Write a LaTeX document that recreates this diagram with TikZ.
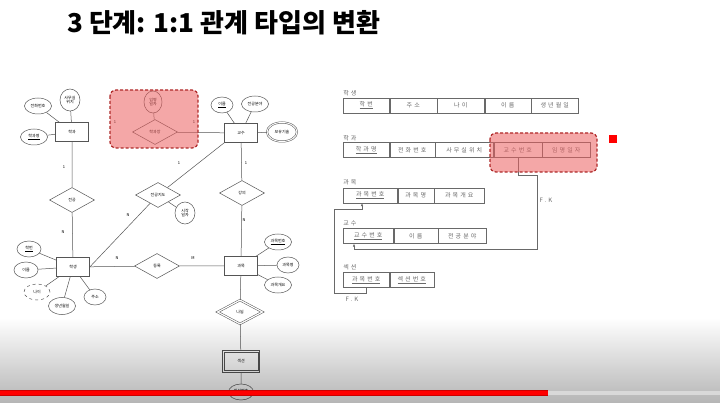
\documentclass[tikz,border=0pt]{standalone}
\usepackage{fontspec}
\newfontfamily\cjk{Noto Sans CJK KR}
\newfontfamily\cjkwide[LetterSpace=35]{Noto Sans CJK KR}
\usetikzlibrary{shapes.geometric}
\usetikzlibrary{positioning}
\usetikzlibrary{arrows.meta}
\usetikzlibrary{fadings}
\definecolor{linegray}{RGB}{85,85,85}
\definecolor{cellgray}{RGB}{105,105,105}
\definecolor{hlfill}{RGB}{235,95,95}
\definecolor{hldraw}{RGB}{175,40,40}
\tikzstyle{every path}=[line width=0.5pt]
\newcommand{\erfont}{\cjk\fontsize{4}{4.6}\selectfont}
\newcommand{\tabfont}{\cjkwide\fontsize{6}{7}\selectfont}

\begin{document}
\begin{tikzpicture}[x=1pt,y=-1pt]
		\tikzstyle{ent} = [draw=linegray,fill=white,minimum width=33pt,minimum height=19pt,inner sep=0pt,font=\erfont]
		\tikzstyle{rel} = [draw=linegray,fill=white,diamond,minimum width=45pt,minimum height=25pt,inner sep=0pt,font=\erfont]
		\tikzstyle{attr} = [draw=linegray,fill=white,ellipse,minimum width=27pt,minimum height=16pt,inner sep=0pt,font=\erfont,align=center]
		\tikzstyle{card} = [font=\erfont,inner sep=0pt]
		\tikzstyle{cell} = [draw=cellgray,minimum height=15pt,inner sep=0pt,font=\tabfont,text=cellgray]
		\tikzstyle{tname} = [anchor=west,inner sep=0pt,font=\tabfont,text=cellgray]
		\tikzstyle{hlbox} = [draw=hldraw,fill=hlfill,fill opacity=0.55,dash pattern=on 3pt off 2pt,line width=1.2pt,rounded corners=6pt]
		\tikzstyle{fk} = [cellgray,-{Latex[length=3pt,width=2.5pt]}]
		
		\useasboundingbox (0,0) rectangle (720,403);
		\fill[white] (0,0) rectangle (720,403);
		
		\node[anchor=base west,inner sep=0pt,font=\cjk\bfseries\fontsize{26}{30}\selectfont] (title) at (67,33) {3 단계: 1:1 관계 타입의 변환};
		
		\node[ent] (hakgwa) at (72,132) {학과};
		\node[ent] (gyosu) at (241,133) {교수};
		\node[ent] (haksaeng) at (73,267) {학생};
		\node[ent] (gwamok) at (241,266) {과목};
		\node[ent,minimum width=37pt,minimum height=22pt] (section) at (241,361) {섹션};
		\draw[linegray] ([shift={(2,2)}]section.north west) rectangle ([shift={(-2,-2)}]section.south east);
		
		\node[rel] (hakgwajang) at (155,132) {학과장};
		\node[rel] (jeongong) at (72,200) {전공};
		\node[rel] (jido) at (158,195) {전공지도};
		\node[rel] (gangui) at (242,193) {강의};
		\node[rel] (deungnok) at (157,266) {등록};
		\node[rel,double,double distance=1.2pt,minimum height=24pt] (nanum) at (240,312) {나뉨};
		
		\node[attr] (jeonhwa) at (38,106) {전화번호};
		\node[attr,minimum width=20pt,minimum height=22pt] (samusil) at (70,100) {사무실\\위치};
		\node[attr] (hgmyeong) at (34,137) {\underline{학과명}};
		\node[attr,minimum width=18pt,minimum height=22pt] (immyeong) at (153,102) {임명\\일자};
		\node[attr,minimum width=22pt] (gsireum) at (222,105) {\underline{이름}};
		\node[attr] (bunya) at (255,104) {전공분야};
		\node[attr,double,double distance=1pt,minimum width=30pt,minimum height=19pt] (boyu) at (282,132) {보유기술};
		\node[attr,minimum width=20pt,minimum height=22pt] (sijak) at (185,213) {시작\\일자};
		\node[attr,minimum width=24pt] (hakbeon) at (29,249) {\underline{학번}};
		\node[attr,minimum width=24pt] (hsireum) at (26,270) {이름};
		\node[attr,dashed,minimum width=26pt] (nai) at (37,292) {나이};
		\node[attr,minimum height=17pt] (saengil) at (62,306) {생년월일};
		\node[attr,minimum width=22pt] (juso) at (95,297) {주소};
		\node[attr] (gbeon) at (278,242) {\underline{과목번호}};
		\node[attr,minimum width=22pt] (gmyeong) at (288,265) {과목명};
		\node[attr] (ggaeyo) at (278,285) {과목개요};
		\node[attr,minimum width=25pt] (sbeon) at (241,392) {\underline{섹션번호}};
		
		\draw[linegray] (hakgwa) -- (jeonhwa);
		\draw[linegray] (hakgwa) -- (samusil);
		\draw[linegray] (hakgwa) -- (hgmyeong);
		\draw[linegray,double,double distance=1.2pt] (hakgwa) -- (hakgwajang);
		\draw[linegray] (hakgwajang) -- (gyosu);
		\draw[linegray] (hakgwajang) -- (immyeong);
		\draw[linegray] (gyosu) -- (gsireum);
		\draw[linegray] (gyosu) -- (bunya);
		\draw[linegray] (gyosu) -- (boyu);
		\draw[linegray] (hakgwa) -- (jeongong) -- (haksaeng);
		\draw[linegray] (gyosu.south west) -- (jido) -- (haksaeng.east);
		\draw[linegray] (jido) -- (sijak);
		\draw[linegray] (gyosu) -- (gangui) -- (gwamok);
		\draw[linegray] (haksaeng) -- (deungnok) -- (gwamok);
		\draw[linegray] (haksaeng) -- (hakbeon);
		\draw[linegray] (haksaeng) -- (hsireum);
		\draw[linegray] (haksaeng) -- (nai);
		\draw[linegray] (haksaeng) -- (saengil);
		\draw[linegray] (haksaeng) -- (juso);
		\draw[linegray] (gwamok) -- (gbeon);
		\draw[linegray] (gwamok) -- (gmyeong);
		\draw[linegray] (gwamok) -- (ggaeyo);
		\draw[linegray] (gwamok) -- (nanum) -- (section) -- (sbeon);
		
		\node[card] at (115,122) {1};
		\node[card] at (194,122) {1};
		\node[card] at (64,167) {1};
		\node[card] at (63,232) {N};
		\node[card] at (179,163) {1};
		\node[card] at (128,215) {N};
		\node[card] at (246,163) {1};
		\node[card] at (244,220) {N};
		\node[card] at (117,258) {N};
		\node[card] at (193,258) {M};
		
		\node[tname] at (343,93) {학생};
		\node[cell,anchor=west,minimum width=46pt] (hs1) at (343,105.5) {\underline{학번}};
		\node[cell,minimum width=47pt,right=0pt of hs1] (hs2) {주소};
		\node[cell,minimum width=47pt,right=0pt of hs2] (hs3) {나이};
		\node[cell,minimum width=46pt,right=0pt of hs3] (hs4) {이름};
		\node[cell,minimum width=47pt,right=0pt of hs4] (hs5) {생년월일};
		
		\node[tname] at (343,138) {학과};
		\node[cell,anchor=west,minimum width=46pt] (hg1) at (343,150) {\underline{학과명}};
		\node[cell,minimum width=45pt,right=0pt of hg1] (hg2) {전화번호};
		\node[cell,minimum width=58pt,right=0pt of hg2] (hg3) {사무실위치};
		\node[cell,minimum width=48pt,right=0pt of hg3] (hg4) {교수번호};
		\node[cell,minimum width=48pt,right=0pt of hg4] (hg5) {임명일자};
		
		\node[tname] at (343,182) {과목};
		\node[cell,anchor=west,minimum width=54pt] (gm1) at (343,195.5) {\underline{과목번호}};
		\node[cell,minimum width=36pt,right=0pt of gm1] (gm2) {과목명};
		\node[cell,minimum width=50pt,right=0pt of gm2] (gm3) {과목개요};
		
		\node[tname] at (343,223) {교수};
		\node[cell,anchor=west,minimum width=50pt] (gs1) at (343,236) {\underline{교수번호}};
		\node[cell,minimum width=44pt,right=0pt of gs1] (gs2) {이름};
		\node[cell,minimum width=48pt,right=0pt of gs2] (gs3) {전공분야};
		
		\node[tname] at (343,267) {섹션};
		\node[cell,anchor=west,minimum width=46pt] (ss1) at (343,280) {\underline{과목번호}};
		\node[cell,minimum width=44pt,right=0pt of ss1] (ss2) {\underline{섹션번호}};
		
		\coordinate (fk1a) at (537,175);
		\coordinate (fk1b) at (537,249);
		\coordinate (fk1c) at (354,249);
		\draw[fk] (hg4.south) |- (fk1a) -- (fk1b) -- (fk1c) -- (fk1c |- gs1.south);
		\coordinate (fk2a) at (334,293);
		\coordinate (fk2b) at (334,209);
		\coordinate (fk2c) at (362,209);
		\draw[fk] (ss1.south) |- (fk2a) -- (fk2b) -- (fk2c) -- (fk2c |- gm1.south);
		\node[font=\tabfont,text=cellgray] (fklabel1) at (546,200) {F.K};
		\node[font=\tabfont,text=cellgray] (fklabel2) at (352,299) {F.K};
		
		\draw[hlbox] (110,90) rectangle (198,148);
		\draw[hlbox] (490,133) rectangle (597,172);
		\fill[red] (609,135) rectangle (617,143);
		
		\fill[black,fill opacity=0.45,path fading=north] (0,318) rectangle (720,450);
		\fill[gray!30] (548,390.5) rectangle (720,394.5);
		\fill[red!80!black] (0,389.5) rectangle (548,395.5);
		\fill[red] (0,390.5) rectangle (548,394.5);
		
	\end{tikzpicture}
\end{document}
